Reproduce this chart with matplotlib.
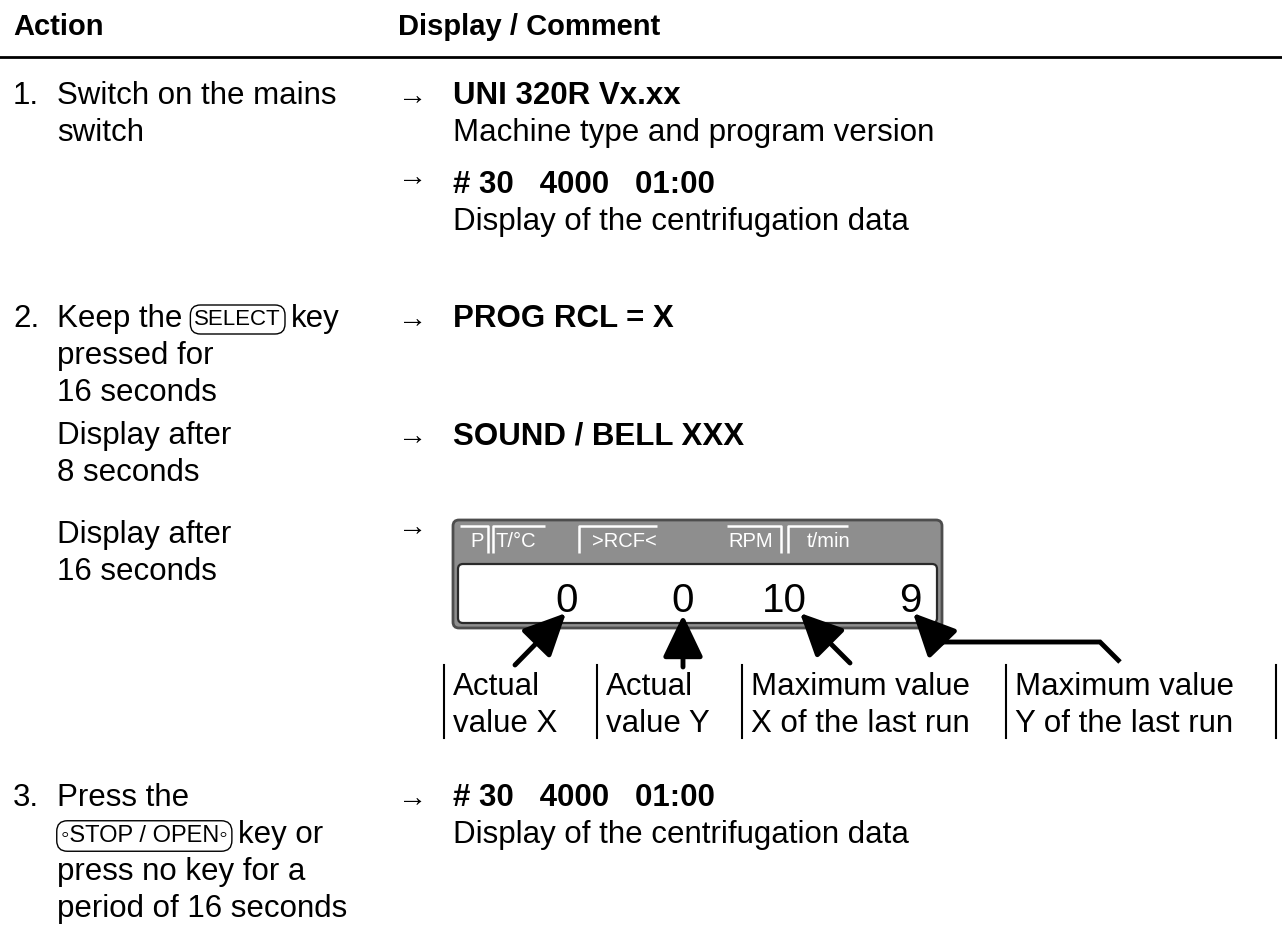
import matplotlib
matplotlib.use("Agg")
import matplotlib.pyplot as plt
from matplotlib.patches import FancyBboxPatch

plt.rcParams['font.family'] = ['Liberation Sans', 'DejaVu Sans']

# header row
headers = ["Action", "Display / Comment"]

# left column texts
step1_lines = ["Switch on the mains", "switch"]
step2_lines = ["Keep the", "pressed for", "16 seconds"]
after8_lines = ["Display after", "8 seconds"]
after16_lines = ["Display after", "16 seconds"]
step3_lines = ["Press the", "key or", "press no key for a", "period of 16 seconds"]

# right column texts
disp_boot = ["UNI 320R Vx.xx", "Machine type and program version"]
disp_data = ["# 30   4000   01:00", "Display of the centrifugation data"]
disp_prog = "PROG RCL = X"
disp_sound = "SOUND / BELL XXX"

# display panel contents
panel_heads = ["P", "T/°C", ">RCF<", "RPM", "t/min"]
panel_head_x = [470, 495, 592, 728, 807]
panel_values = ["0", "0", "10", "9"]
panel_value_x = [567, 683, 784, 910]
callouts = [["Actual", "value X"], ["Actual", "value Y"],
            ["Maximum value", "X of the last run"], ["Maximum value", "Y of the last run"]]
callout_x = [444, 597, 742, 1006]

fig = plt.figure(figsize=(12.82, 9.27), dpi=100)
ax = fig.add_axes([0, 0, 1, 1])
ax.set_xlim(0, 1282)
ax.set_ylim(927, 0)
ax.axis('off')

FS = 22.5
LH = 37
NUMX, LX, AX, RX = 13, 57, 398, 453


def txt(x, y, s, **kw):
    kw.setdefault('fontsize', FS)
    return ax.text(x, y, s, va='baseline', **kw)


def block(x, y0, items, **kw):
    for i, s in enumerate(items):
        txt(x, y0 + i * LH, s, **kw)


def arrow(y):
    txt(AX, y, "→", fontsize=21)


def right_edge(t):
    bb = t.get_window_extent(rend)
    return ax.transData.inverted().transform((bb.x1, 0))[0]


fig.canvas.draw()
rend = fig.canvas.get_renderer()
keybox = dict(boxstyle='round,pad=0.18,rounding_size=0.45', fc='white', ec='black', lw=1)

# header
txt(NUMX, 35, headers[0], fontsize=21, fontweight='bold')
txt(AX, 35, headers[1], fontsize=21, fontweight='bold')
ax.plot([0, 1282], [57, 57], color='black', lw=2)

# step 1
txt(NUMX, 104, "1.")
block(LX, 104, step1_lines)
arrow(104)
txt(RX, 104, disp_boot[0], fontweight='bold')
txt(RX, 141, disp_boot[1])
arrow(185)
txt(RX, 193, disp_data[0], fontweight='bold')
txt(RX, 230, disp_data[1])

# step 2 with SELECT key
txt(NUMX, 327, "2.")
t = txt(LX, 327, step2_lines[0])
k = txt(right_edge(t) + 12, 325, "SELECT", fontsize=16, bbox=keybox)
txt(right_edge(k) + 10, 327, "key")
block(LX, 327 + LH, step2_lines[1:])
arrow(327)
txt(RX, 327, disp_prog, fontweight='bold')

block(LX, 444, after8_lines)
arrow(444)
txt(RX, 444, disp_sound, fontweight='bold')

block(LX, 543, after16_lines)
arrow(535)

# display panel
ax.add_patch(FancyBboxPatch((453, 520), 489, 108, boxstyle='round,pad=0,rounding_size=6',
                            fc='#8e8e8e', ec='#4d4d4d', lw=2))
ax.add_patch(FancyBboxPatch((458, 564), 479, 59, boxstyle='round,pad=0,rounding_size=5',
                            fc='white', ec='#2a2a2a', lw=1.6))
for s, x in zip(panel_heads, panel_head_x):
    txt(x, 547, s, fontsize=14.5, color='white')
wl = dict(color='white', lw=1.8, solid_capstyle='butt')
ax.plot([460, 488, 488], [526, 526, 553], **wl)
ax.plot([493, 493, 545], [553, 526, 526], **wl)
ax.plot([579, 579, 657], [553, 526, 526], **wl)
ax.plot([727, 781, 781], [526, 526, 553], **wl)
ax.plot([788, 788, 848], [553, 526, 526], **wl)
for s, x in zip(panel_values, panel_value_x):
    txt(x, 612, s, fontsize=29, ha='center')

# callout arrows
ak = dict(arrowstyle='-|>,head_length=1.3,head_width=0.62', lw=3.5, color='black',
          mutation_scale=20, shrinkA=0, shrinkB=0)
ax.annotate("", xy=(566, 613), xytext=(515, 665), arrowprops=ak)
ax.annotate("", xy=(683, 615), xytext=(683, 667), arrowprops=ak)
ax.annotate("", xy=(800, 613), xytext=(850, 663), arrowprops=ak)
ax.plot([1120, 1100, 941], [662, 642, 642], color='black', lw=3.5,
        solid_capstyle='butt', solid_joinstyle='miter')
ax.annotate("", xy=(913, 613), xytext=(942, 643), arrowprops=ak)

for (l1, l2), x in zip(callouts, callout_x):
    ax.plot([x, x], [665, 738], color='black', lw=1.5)
    txt(x + 9, 695, l1)
    txt(x + 9, 732, l2)
ax.plot([1276, 1276], [665, 738], color='black', lw=1.5)

# step 3 with STOP / OPEN key
txt(NUMX, 806, "3.")
txt(LX, 806, step3_lines[0])
k = txt(LX + 4, 842, "◦STOP / OPEN◦", fontsize=17, bbox=keybox)
txt(right_edge(k) + 10, 843, step3_lines[1])
block(LX, 843 + LH, step3_lines[2:])
arrow(806)
txt(RX, 806, disp_data[0], fontweight='bold')
txt(RX, 843, disp_data[1])

fig.savefig("out.png", dpi=100)
